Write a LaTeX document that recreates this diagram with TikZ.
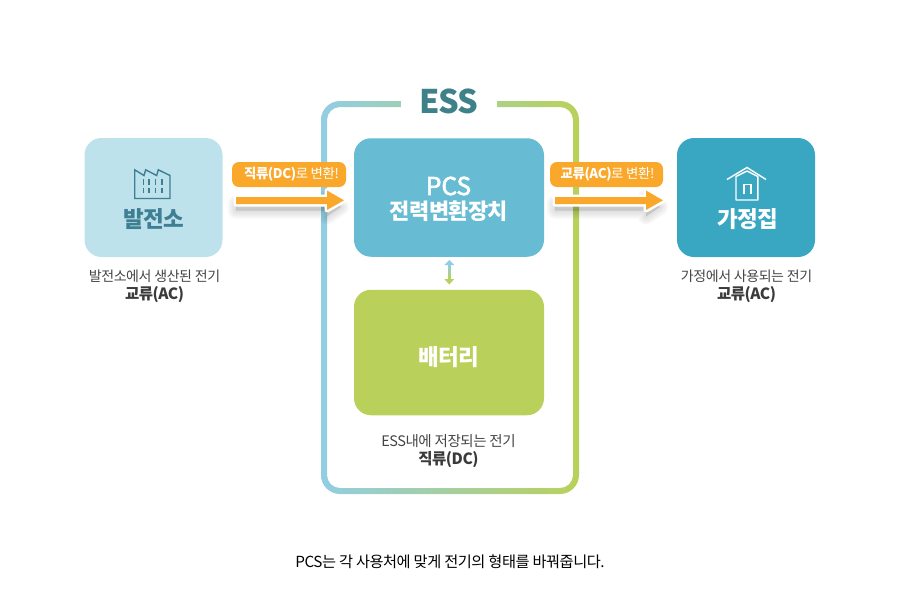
\documentclass[tikz,border=0pt]{standalone}
\usepackage{fontspec}
\setmainfont{Noto Sans CJK KR}[LetterSpace=-3]
\newfontfamily\medfont{Noto Sans CJK KR}[FakeBold=2.5]
\usetikzlibrary{positioning}
\definecolor{cfac}{HTML}{BDE2EC}
\definecolor{cfact}{HTML}{3F7F93}
\definecolor{chome}{HTML}{39A7C1}
\definecolor{cpcs}{HTML}{67BBD3}
\definecolor{cbat}{HTML}{B9D15A}
\definecolor{cblue}{HTML}{92CDE3}
\definecolor{cess}{HTML}{3F8189}
\definecolor{corg}{HTML}{F9A82B}
\definecolor{ctxt}{HTML}{444444}
\newcommand{\capb}[1]{{\fontsize{15.5}{18}\selectfont\bfseries\color{ctxt!85!black}#1}}
\tikzset{
 x=1pt,y=-1pt,
 boxn/.style={rounded corners=17pt,inner sep=0pt,text=white,align=center},
 tagn/.style={fill=corg,rounded corners=7pt,minimum height=25pt,inner sep=0pt,text=white,font=\fontsize{13.4}{13}\selectfont},
 capn/.style={align=center,text=ctxt,font=\fontsize{14}{18}\selectfont},
 bigl/.style={font=\fontsize{22.5}{22}\selectfont\bfseries},
 shade1/.style={draw=black,draw opacity=.03,fill=black,fill opacity=.03,line join=round},
}
\newcommand{\BigArrow}[3]{% x0 tip name
 \foreach \w in {16,12,8,4}{
 \path[shade1,line width=\w pt] (#1,203.5)--(#2-17,203.5)--(#2-17,197)--(#2-3,207)--(#2-17,216.5)--(#2-17,210.5)--(#1,210.5)--cycle;}
 \path[draw=white,fill=white,line width=5pt,line join=round] (#1,197)--(#2-17,197)--(#2-17,190.5)--(#2,200.3)--(#2-17,210)--(#2-17,204)--(#1,204)--cycle;
 \path[fill=corg] (#1,197)--(#2-17,197)--(#2-17,190.5)--(#2,200.3)--(#2-17,210)--(#2-17,204)--(#1,204)--cycle;
 \coordinate (#3) at (#2,200);
}
\begin{document}
\begin{tikzpicture}
\useasboundingbox (0,0) rectangle (900,600);
% ESS frame
\shade[left color=cblue,right color=cbat,even odd rule]
 (321,101) [rounded corners=19pt] -- (579,101) -- (579,494) -- (321,494) -- cycle
 [sharp corners] (327,107) [rounded corners=13pt] -- (573,107) -- (573,488) -- (327,488) -- cycle;
\fill[white] (401,95) rectangle (497,112);
\node[font=\fontsize{32.5}{32}\selectfont\bfseries,text=cess] (ess) at (449,101) {ESS};
% boxes
\node[boxn,fill=cfac,minimum width=138pt,minimum height=119pt] (plant) at (153.5,197.5) {};
\node[boxn,fill=chome,minimum width=138pt,minimum height=119pt] (home) at (746,197.5) {};
\node[boxn,fill=cpcs,minimum width=190pt,minimum height=118.5pt] (pcs) at (449,197.5) {};
\node[boxn,fill=cbat,minimum width=190pt,minimum height=125.5pt] (bat) at (449,352.5) {};
\node[text=white,font=\fontsize{24.5}{24}\medfont] (pcsl) at (448.5,186) {PCS};
\node[bigl,text=white,font=\fontsize{22}{22}\selectfont\bfseries] (pcsm) at (449,211) {전력변환장치};
\node[bigl,text=white] (batl) at (449,357.5) {배터리};
\node[bigl,text=cfact] (plantl) at (153.5,219.5) {발전소};
\node[bigl,text=white] (homel) at (747.5,219.5) {가정집};
% factory icon
\draw[cfact,line width=1.4pt,line join=miter] (134.7,198.5)--(134.7,169.8)--(144,175.5)--(145.7,169.8)--(156.7,175.5)--(158.3,169.8)--(170,175.5)--(170,198.5)--cycle;
\foreach \xx in {143.3,149.2,155.7,162}{
 \draw[cfact,line width=1.5pt,dash pattern=on 5.5pt off 3pt] (\xx,179)--(\xx,193);}
% house icon
\draw[white,line width=1.4pt,line join=miter] (727,179.5)--(747,167.5)--(766,179.5);
\draw[white,line width=1.4pt,line join=round] (736,200)--(736,176.5)--(747,171)--(757.8,176.5)--(757.8,200)--cycle;
\draw[white,line width=1.4pt] (744,194)--(744,184.5)--(751,184.5)--(751,194);
% double arrow
\shade[top color=cblue,bottom color=cbat] (448.3,264)--(448.3,280)--(450.4,280)--(450.4,264)--cycle;
\fill[cblue] (444.3,265)--(449.3,260)--(454.3,265)--cycle;
\fill[cbat] (444.3,279)--(449.3,284.5)--(454.3,279)--cycle;
% arrows and tags
\BigArrow{236}{344}{a1}
\BigArrow{555}{663}{a2}
\node[tagn,minimum width=114pt] (t1) at (289,174.5) {\hspace*{5pt}\textbf{직류(DC)}로 변환!};
\node[tagn,minimum width=113pt] (t2) at (606.5,174.5) {\hspace*{2pt}\textbf{교류(AC)}로 변환!};
% captions
\node[capn] (c1) at (154.5,286) {발전소에서 생산된 전기\\\capb{교류(AC)}};
\node[capn] (c2) at (746.5,286) {가정에서 사용되는 전기\\\capb{교류(AC)}};
\node[capn] (c3) at (448.5,451) {{\fontsize{14.5}{18}\selectfont ESS내에 저장되는 전기}\\\capb{직류(DC)}};
\node[capn,text=black,font=\fontsize{15.25}{18}\selectfont] (c4) at (450,561.5) {PCS는 각 사용처에 맞게 전기의 형태를 바꿔줍니다.};
\end{tikzpicture}
\end{document}
